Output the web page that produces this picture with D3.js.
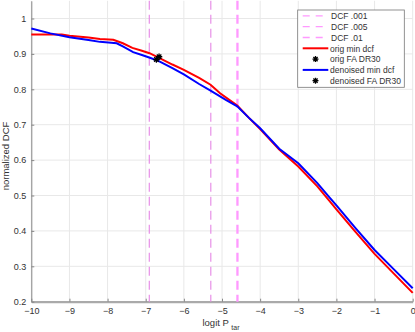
<!DOCTYPE html>
<html>
<head>
<meta charset="utf-8">
<script src="https://cdn.jsdelivr.net/npm/d3@7.9.0/dist/d3.min.js"></script>
<style>
  body { margin: 0; background: #fff; }
  svg { display: block; font-family: "Liberation Sans", Arial, sans-serif; }
</style>
</head>
<body>
<svg width="415" height="332"></svg>
<script>
// logit P_tar grid and min DCF curves
const origX = [-10, -9.5, -9.2, -9, -8.5, -8.2, -7.85, -7.6, -7.35, -7.1, -6.9, -6.65, -6.3, -6, -5.6, -5.3, -5.05, -4.6, -4.3, -4, -3.5, -3, -2.5, -2.2, -2, -1.5, -1, -0.5, 0];
const origDcf = [0.955, 0.955, 0.955, 0.951, 0.946, 0.942, 0.940, 0.930, 0.917, 0.909, 0.902, 0.889, 0.870, 0.855, 0.832, 0.813, 0.789, 0.754, 0.720, 0.688, 0.630, 0.582, 0.526, 0.487, 0.461, 0.397, 0.335, 0.280, 0.225];

const denX = [-10, -9.5, -9, -8.5, -8.2, -7.76, -7.6, -7.33, -7.1, -6.89, -6.63, -6.3, -6, -5.6, -5.3, -4.9, -4.6, -4.3, -4, -3.5, -3, -2.5, -2.2, -2, -1.5, -1, -0.5, 0];
const denDcf = [0.972, 0.958, 0.947, 0.939, 0.934, 0.930, 0.921, 0.905, 0.897, 0.889, 0.878, 0.860, 0.842, 0.815, 0.796, 0.770, 0.752, 0.720, 0.690, 0.632, 0.591, 0.535, 0.497, 0.472, 0.408, 0.346, 0.292, 0.238];

// operating points (FA DR30)
const origFA = [-6.65, 0.892];
const denFA = [-6.72, 0.884];

// DCF priors drawn as vertical lines at logit(p)
const dcfNames = ["DCF .001", "DCF .005", "DCF .01"];
const dcfPriors = [0.001, 0.005, 0.01];

const xTicks = [-10, -9, -8, -7, -6, -5, -4, -3, -2, -1, 0];
const yTicks = [0.2, 0.3, 0.4, 0.5, 0.6, 0.7, 0.8, 0.9, 1];

const svg = d3.select("svg");
const x = d3.scaleLinear().domain([-10, 0]).range([31.3, 412.7]);
const y = d3.scaleLinear().domain([0.2, 1.05]).range([301.7, 0.8]);

const dcfStyle = [
  { color: "#e586e5", width: 1.1 },
  { color: "#e586e5", width: 1.1 },
  { color: "#ff99ff", width: 2.3 }
];

// grid
svg.append("g").selectAll("line").data(xTicks).join("line")
  .attr("x1", d => x(d)).attr("x2", d => x(d))
  .attr("y1", y(1.05)).attr("y2", y(0.2))
  .attr("stroke", "#e8e8e8").attr("stroke-width", 1);
svg.append("g").selectAll("line").data(yTicks).join("line")
  .attr("x1", x(-10)).attr("x2", x(0))
  .attr("y1", d => y(d)).attr("y2", d => y(d))
  .attr("stroke", "#e8e8e8").attr("stroke-width", 1);

// axes (ticks inward)
const xAxis = svg.append("g").attr("transform", `translate(0,${y(0.2)})`)
  .call(d3.axisBottom(x).tickValues(xTicks).tickSizeInner(-3).tickSizeOuter(0).tickPadding(6).tickFormat(d3.format("d")));
const yAxis = svg.append("g").attr("transform", `translate(${x(-10)},0)`)
  .call(d3.axisLeft(y).tickValues(yTicks).tickSizeInner(-3).tickSizeOuter(0).tickPadding(5).tickFormat(d => d === 1 ? "1" : d3.format(".1f")(d)));
[xAxis, yAxis].forEach(g => {
  g.selectAll("text").attr("fill", "#333").attr("font-size", 9);
  g.selectAll(".tick line").attr("stroke", "#888");
});
xAxis.select(".domain").attr("stroke", "#aaa").attr("stroke-width", 2.2);
yAxis.select(".domain").attr("stroke", "#888").attr("stroke-width", 1);

// DCF vertical lines
const logit = p => Math.log(p / (1 - p));
svg.append("g").selectAll("line").data(dcfPriors).join("line")
  .attr("x1", d => x(logit(d))).attr("x2", d => x(logit(d)))
  .attr("y1", y(1.05)).attr("y2", y(0.2))
  .attr("stroke", (d, i) => dcfStyle[i].color)
  .attr("stroke-width", (d, i) => dcfStyle[i].width)
  .attr("stroke-dasharray", "9,5");

// curves
const line = d3.line().x(d => x(d[0])).y(d => y(d[1]));
svg.append("path").datum(d3.zip(origX, origDcf))
  .attr("d", line).attr("fill", "none").attr("stroke", "#ff0000").attr("stroke-width", 2);
svg.append("path").datum(d3.zip(denX, denDcf))
  .attr("d", line).attr("fill", "none").attr("stroke", "#0000ff").attr("stroke-width", 2);

// asterisk marker
function star(cx, cy, r) {
  const p = d3.path();
  for (let k = 0; k < 4; k++) {
    const a = k * Math.PI / 4;
    p.moveTo(cx - r * Math.cos(a), cy - r * Math.sin(a));
    p.lineTo(cx + r * Math.cos(a), cy + r * Math.sin(a));
  }
  return p.toString();
}
[origFA, denFA].forEach(d => {
  svg.append("path").attr("d", star(x(d[0]), y(d[1]), 3.2))
    .attr("stroke", "#000").attr("stroke-width", 1.3).attr("fill", "none");
});

// axis labels
const xl = svg.append("text").attr("x", 221).attr("y", 326).attr("text-anchor", "middle")
  .attr("font-size", 9.5).attr("fill", "#333");
xl.append("tspan").text("logit P ");
xl.append("tspan").attr("dy", 4).attr("font-size", 7).text("tar");
svg.append("text").attr("transform", "translate(9,156) rotate(-90)")
  .attr("text-anchor", "middle").attr("font-size", 9.5).attr("fill", "#333")
  .text("normalized DCF");

// legend
const leg = svg.append("g");
leg.append("rect").attr("x", 297.7).attr("y", 10).attr("width", 106.6).attr("height", 77.3)
  .attr("fill", "#fff").attr("stroke", "#777").attr("stroke-width", 0.8);
const legItems = [
  ...dcfNames.map((n, i) => ({ name: n, kind: "dash", color: dcfStyle[i].color })),
  { name: "orig min dcf", kind: "line", color: "#ff0000" },
  { name: "orig FA DR30", kind: "star" },
  { name: "denoised min dcf", kind: "line", color: "#0000ff" },
  { name: "denoised FA DR30", kind: "star" }
];
legItems.forEach((d, i) => {
  const ly = 15.9 + i * 10.8;
  if (d.kind === "dash") {
    leg.append("line").attr("x1", 302.7).attr("x2", 328.3).attr("y1", ly).attr("y2", ly)
      .attr("stroke", "#ff99ff").attr("stroke-width", 1.3).attr("stroke-dasharray", "7,6");
  } else if (d.kind === "line") {
    leg.append("line").attr("x1", 302.7).attr("x2", 328.3).attr("y1", ly).attr("y2", ly)
      .attr("stroke", d.color).attr("stroke-width", 2);
  } else {
    leg.append("path").attr("d", star(315.5, ly, 3)).attr("stroke", "#000")
      .attr("stroke-width", 1.3).attr("fill", "none");
  }
  leg.append("text").attr("x", d.kind === "dash" ? 331 : 330).attr("y", ly + 3.2)
    .attr("font-size", 8.5).attr("fill", "#333").text(d.name);
});
</script>
</body>
</html>
